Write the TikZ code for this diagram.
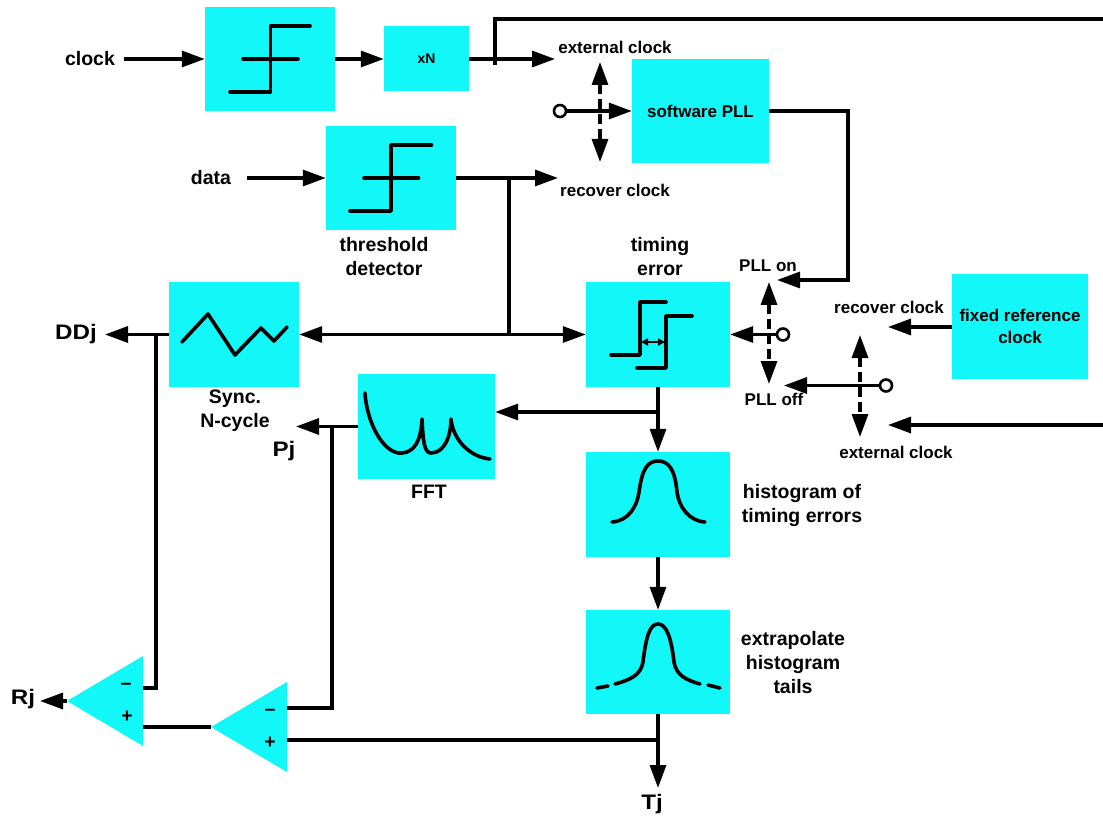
\documentclass[tikz,border=0pt]{standalone}
\usepackage{fontspec}
\setmainfont{Liberation Sans}
\usetikzlibrary{arrows.meta}
\definecolor{boxcyan}{HTML}{12F7F7}
\tikzset{
  wire/.style={line width=3.2pt,draw=black,line join=miter},
  arr/.style={wire,-{Triangle[length=23pt,width=16pt]}},
  darr/.style={wire,{Triangle[length=23pt,width=16pt]}-{Triangle[length=23pt,width=16pt]}},
  swarr/.style={wire,dash pattern=on 10pt off 5pt,{Triangle[length=23pt,width=16pt]}-{Triangle[length=23pt,width=16pt]}},
  icon/.style={line width=3.6pt,draw=black,line cap=round,line join=round},
  cyanbox/.style={fill=boxcyan,draw=none,inner sep=0pt,align=center},
  lab/.style={inner sep=0pt,align=center,text=black},
  ts/.style={lab,font=\fontsize{17}{24}\selectfont\bfseries},
  tm/.style={lab,font=\fontsize{19.5}{24}\selectfont\bfseries},
  tl/.style={lab,xscale=1.15,font=\fontsize{21}{24}\selectfont\bfseries},
  sw/.style={circle,draw=black,fill=white,line width=2.6pt,inner sep=0pt,minimum size=12pt}
}
\begin{document}
\begin{tikzpicture}[x=1pt,y=-1pt]
\useasboundingbox (0,0) rectangle (1103,818);
% boxes
\node[cyanbox,minimum width=130pt,minimum height=104pt] (limit) at (270,59) {};
\node[cyanbox,minimum width=85pt,minimum height=65pt,font=\fontsize{14}{16}\selectfont\bfseries] (xn) at (426.5,59) {xN};
\node[cyanbox,minimum width=137pt,minimum height=104pt,font=\fontsize{17}{24}\selectfont\bfseries] (pll) at (700.5,111) {software PLL};
\node[cyanbox,minimum width=130pt,minimum height=104pt] (thr) at (391,178) {};
\node[cyanbox,minimum width=130pt,minimum height=105pt] (sync) at (234,334.5) {};
\node[cyanbox,minimum width=144pt,minimum height=105pt] (terr) at (658,334.5) {};
\node[cyanbox,minimum width=136pt,minimum height=105pt,font=\fontsize{17}{22}\selectfont\bfseries] (fixed) at (1020,326.5) {fixed reference\\clock};
\node[cyanbox,minimum width=137pt,minimum height=105pt] (fft) at (426.5,426.5) {};
\node[cyanbox,minimum width=144pt,minimum height=105pt] (hist) at (658,504.5) {};
\node[cyanbox,minimum width=144pt,minimum height=104pt] (extr) at (658,662) {};
% triangles
\coordinate (ta) at (67,701);
\coordinate (tb) at (211,727);
\fill[boxcyan] (ta) -- (143,656) -- (143,746) -- cycle;
\fill[boxcyan] (tb) -- (287,682) -- (287,772) -- cycle;
\node[tm] (m1) at (126,686) {–};
\node[tm] (p1) at (127,717) {+};
\node[tm] (m2) at (270,712) {–};
\node[tm] (p2) at (270,743) {+};
\coordinate (ta-m) at (143,688);
\coordinate (ta-p) at (143,727);
\coordinate (tb-m) at (287,708);
\coordinate (tb-p) at (287,740);
% labels
\node[tm] (lclock) at (90,59) {clock};
\node[tm] (ldata) at (211,178) {data};
\node[ts] (lext1) at (615,47) {external clock};
\node[ts] (lrec1) at (615,190) {recover clock};
\node[tm] (lthr) at (384,257) {threshold\\detector};
\node[tm] (lterr) at (660,256.5) {timing\\error};
\node[tm] (lsync) at (235,411) {Sync.\\N-cycle};
\node[tm] (lfft) at (429,492) {FFT};
\node[tm] (lhist) at (802,505.5) {histogram of\\timing errors};
\node[tm] (lextr) at (793,662.5) {extrapolate\\histogram\\tails};
\node[ts] (lon) at (768,266) {PLL on};
\node[ts] (loff) at (774,399) {PLL off};
\node[ts] (lrec2) at (889,307) {recover clock};
\node[ts] (lext2) at (896,452) {external clock};
\node[tl] (ldd) at (76,334) {DDj};
\node[tl] (lp) at (284,451) {Pj};
\node[tl] (lr) at (23,699) {Rj};
\node[tl] (lt) at (652,804) {Tj};
% free ends
\coordinate (ext1tip) at (555,59);
\coordinate (rec1tip) at (558,178);
\coordinate (ddtip) at (105,334.5);
\coordinate (ptip) at (296,426.5);
\coordinate (rtip) at (40,701);
\coordinate (ttip) at (658,788);
\coordinate (ontip) at (777,280);
\coordinate (offtip) at (784,385.5);
\coordinate (rec2tip) at (888,327);
\coordinate (ext2tip) at (888,425);
\coordinate (topright) at (1103,19);
\coordinate (midright) at (1103,425);
% junctions
\coordinate (jx) at (495,59);
\coordinate (jd) at (509,178);
\coordinate (jb) at (509,334.5);
\coordinate (js) at (156,334.5);
\coordinate (jp) at (332,426.5);
\coordinate (jf) at (658,412);
\coordinate (jt) at (658,740);
% switches
\node[sw] (c1) at (560,111) {};
\node[sw] (c2) at (783,334.5) {};
\node[sw] (c3) at (886,385.5) {};
\coordinate (sa1) at (600,62);
\coordinate (sa2) at (600,162);
\coordinate (sb1) at (769,282);
\coordinate (sb2) at (769,384);
\coordinate (sc1) at (860,335);
\coordinate (sc2) at (860,437);
% connectors
\draw[arr] ([xshift=9pt]lclock.east) -- (limit.west);
\draw[arr] (limit.east) -- (xn.west);
\draw[arr] (xn.east) -- (ext1tip);
\draw[wire] ([yshift=-6pt]jx) -- (jx |- topright) -- (topright);
\draw[arr] ([xshift=16pt]ldata.east) -- (thr.west);
\draw[arr] (thr.east) -- (rec1tip);
\draw[wire] (jd) -- (jb);
\draw[darr] (sync.east) -- (terr.west);
\draw[arr] (sync.west) -- (ddtip);
\draw[wire] (js) -- (js |- ta-m) -- (ta-m);
\draw[arr] (fft.west) -- (ptip);
\draw[wire] (jp) -- (jp |- tb-m) -- (tb-m);
\draw[arr] (terr.south) -- (hist.north);
\draw[arr] (jf) -- (jf -| fft.east);
\draw[arr] (hist.south) -- (extr.north);
\draw[arr] (extr.south) -- (ttip);
\draw[wire] (jt) -- (tb-p);
\draw[wire] (tb) -- (ta-p);
\draw[arr] (ta) -- (rtip);
\draw[arr] (c1) -- (pll.west);
\draw[swarr] (sa1) -- (sa2);
\draw[arr] (pll.east) -- (848,111) -- (848,280) -- (ontip);
\draw[arr] (c2) -- (terr.east);
\draw[swarr] (sb1) -- (sb2);
\draw[arr] (c3) -- (offtip);
\draw[swarr] (sc1) -- (sc2);
\draw[arr] (fixed.west |- rec2tip) -- (rec2tip);
\draw[arr] (midright) -- (ext2tip);
% icons
\draw[icon] (230,92) -- (270.5,92) -- (270.5,26) -- (310,26) (243,59) -- (298,59);
\draw[icon] (350,211) -- (391,211) -- (391,145) -- (431.5,145) (364,178) -- (418.5,178);
\draw[icon] (182,342) -- (208,314) -- (235,355) -- (261,328) -- (274,341) -- (287,327);
\draw[icon] (611,355) -- (640,355) -- (640,302) -- (666,302);
\draw[icon] (637,368) -- (666,368) -- (666,316) -- (692,316);
\draw[line width=2pt,{Triangle[length=7pt,width=7pt]}-{Triangle[length=7pt,width=7pt]}] (641,342) -- (665,342);
\draw[icon] (365,393) .. controls (367,425) and (385,455) .. (402,453) .. controls (415,452) and (421,440) .. (422,419) .. controls (423,440) and (424,453) .. (431,453) .. controls (445,453) and (451,435) .. (451,419) .. controls (453,440) and (470,457) .. (490,459);
\draw[icon] (612,522) .. controls (628,521) and (637,507) .. (639,492) .. controls (642,470) and (647,461) .. (658,461) .. controls (669,461) and (675,470) .. (677,492) .. controls (679,507) and (689,521) .. (705,522);
\draw[icon] (615,684) .. controls (630,680) and (641,675) .. (643,662) .. controls (646,636) and (650,624) .. (658,624) .. controls (666,624) and (671,636) .. (674,662) .. controls (676,675) and (686,680) .. (700,684);
\draw[icon] (597,688) -- (608,686) (708,685) -- (720,688);
\end{tikzpicture}
\end{document}
